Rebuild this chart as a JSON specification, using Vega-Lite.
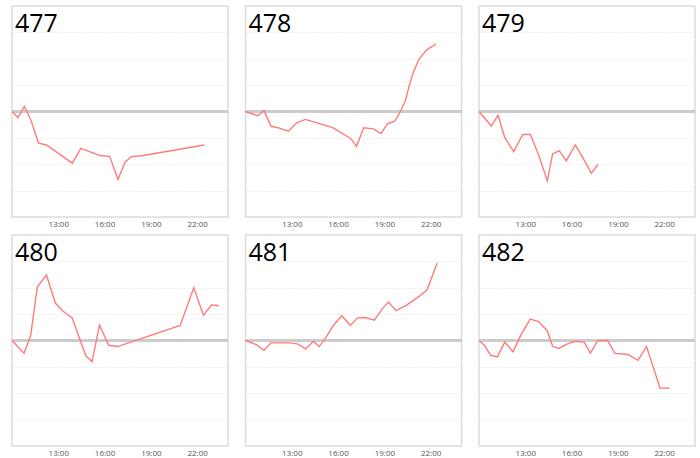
{
  "$schema": "https://vega.github.io/schema/vega-lite/v6.json",
  "padding": {"left": 8, "top": 5, "right": 5, "bottom": 5},
  "background": "white",
  "data": {"values": [
    {"id":"477","h":10.0,"v":0},{"id":"477","h":10.39,"v":-0.23},{"id":"477","h":10.8,"v":0.19},{"id":"477","h":11.24,"v":-0.35},{"id":"477","h":11.72,"v":-1.2},{"id":"477","h":12.24,"v":-1.27},{"id":"477","h":13.91,"v":-1.96},{"id":"477","h":14.46,"v":-1.4},{"id":"477","h":15.7,"v":-1.67},{"id":"477","h":16.33,"v":-1.7},{"id":"477","h":16.87,"v":-2.58},{"id":"477","h":17.33,"v":-1.91},{"id":"477","h":17.74,"v":-1.71},{"id":"477","h":18.41,"v":-1.68},{"id":"477","h":22.46,"v":-1.27},
    {"id":"478","h":10.0,"v":0},{"id":"478","h":10.8,"v":-0.16},{"id":"478","h":11.2,"v":0.03},{"id":"478","h":11.66,"v":-0.56},{"id":"478","h":12.14,"v":-0.62},{"id":"478","h":12.78,"v":-0.75},{"id":"478","h":13.32,"v":-0.43},{"id":"478","h":13.88,"v":-0.3},{"id":"478","h":15.65,"v":-0.61},{"id":"478","h":16.08,"v":-0.76},{"id":"478","h":16.5,"v":-0.91},{"id":"478","h":16.84,"v":-1.04},{"id":"478","h":17.2,"v":-1.32},{"id":"478","h":17.66,"v":-0.62},{"id":"478","h":18.3,"v":-0.66},{"id":"478","h":18.78,"v":-0.84},{"id":"478","h":19.2,"v":-0.47},{"id":"478","h":19.68,"v":-0.37},{"id":"478","h":20.07,"v":0.04},{"id":"478","h":20.35,"v":0.39},{"id":"478","h":20.6,"v":0.95},{"id":"478","h":20.9,"v":1.52},{"id":"478","h":21.25,"v":2.0},{"id":"478","h":21.75,"v":2.34},{"id":"478","h":22.35,"v":2.56},
    {"id":"479","h":10.0,"v":0},{"id":"479","h":10.8,"v":-0.55},{"id":"479","h":11.23,"v":-0.14},{"id":"479","h":11.68,"v":-1.0},{"id":"479","h":12.25,"v":-1.52},{"id":"479","h":12.83,"v":-0.87},{"id":"479","h":13.33,"v":-0.87},{"id":"479","h":13.87,"v":-1.66},{"id":"479","h":14.43,"v":-2.63},{"id":"479","h":14.77,"v":-1.61},{"id":"479","h":15.2,"v":-1.48},{"id":"479","h":15.66,"v":-1.87},{"id":"479","h":16.24,"v":-1.27},{"id":"479","h":16.74,"v":-1.76},{"id":"479","h":17.28,"v":-2.34},{"id":"479","h":17.71,"v":-2.01},
    {"id":"480","h":10.0,"v":0},{"id":"480","h":10.78,"v":-0.48},{"id":"480","h":11.21,"v":0.18},{"id":"480","h":11.64,"v":2.03},{"id":"480","h":12.23,"v":2.48},{"id":"480","h":12.81,"v":1.42},{"id":"480","h":13.31,"v":1.11},{"id":"480","h":13.9,"v":0.86},{"id":"480","h":14.78,"v":-0.58},{"id":"480","h":15.19,"v":-0.8},{"id":"480","h":15.67,"v":0.58},{"id":"480","h":16.27,"v":-0.18},{"id":"480","h":16.84,"v":-0.23},{"id":"480","h":20.9,"v":0.57},{"id":"480","h":21.78,"v":2.0},{"id":"480","h":22.41,"v":0.96},{"id":"480","h":22.93,"v":1.35},{"id":"480","h":23.4,"v":1.32},
    {"id":"481","h":10.0,"v":0},{"id":"481","h":10.7,"v":-0.16},{"id":"481","h":11.19,"v":-0.37},{"id":"481","h":11.65,"v":-0.09},{"id":"481","h":12.82,"v":-0.09},{"id":"481","h":13.36,"v":-0.13},{"id":"481","h":13.9,"v":-0.32},{"id":"481","h":14.4,"v":-0.03},{"id":"481","h":14.77,"v":-0.23},{"id":"481","h":15.16,"v":0.06},{"id":"481","h":15.68,"v":0.56},{"id":"481","h":16.24,"v":0.94},{"id":"481","h":16.8,"v":0.57},{"id":"481","h":17.26,"v":0.86},{"id":"481","h":17.76,"v":0.87},{"id":"481","h":18.35,"v":0.77},{"id":"481","h":18.85,"v":1.19},{"id":"481","h":19.26,"v":1.46},{"id":"481","h":19.76,"v":1.13},{"id":"481","h":20.45,"v":1.34},{"id":"481","h":21.27,"v":1.68},{"id":"481","h":21.77,"v":1.92},{"id":"481","h":22.42,"v":2.94},
    {"id":"482","h":10.0,"v":0},{"id":"482","h":10.35,"v":-0.18},{"id":"482","h":10.76,"v":-0.56},{"id":"482","h":11.19,"v":-0.62},{"id":"482","h":11.67,"v":-0.06},{"id":"482","h":12.21,"v":-0.43},{"id":"482","h":12.73,"v":0.23},{"id":"482","h":13.32,"v":0.81},{"id":"482","h":13.86,"v":0.72},{"id":"482","h":14.42,"v":0.37},{"id":"482","h":14.77,"v":-0.22},{"id":"482","h":15.18,"v":-0.3},{"id":"482","h":15.72,"v":-0.13},{"id":"482","h":16.26,"v":-0.03},{"id":"482","h":16.82,"v":-0.06},{"id":"482","h":17.22,"v":-0.48},{"id":"482","h":17.7,"v":-0.01},{"id":"482","h":18.32,"v":0.01},{"id":"482","h":18.81,"v":-0.49},{"id":"482","h":19.66,"v":-0.53},{"id":"482","h":20.3,"v":-0.75},{"id":"482","h":20.86,"v":-0.23},{"id":"482","h":21.73,"v":-1.8},{"id":"482","h":22.35,"v":-1.81}
  ]},
  "columns": 3,
  "bounds": "flush",
  "spacing": {"column": 17.5, "row": 18},
  "concat": [
    {"transform": [{"filter": "datum.id == '477'"}], "width": 216, "height": 211, "layer": [
      {"mark": "rule", "encoding": {"y": {"datum": 0, "type": "quantitative"}}},
      {"mark": "line", "encoding": {"x": {"field": "h", "type": "quantitative", "scale": {"domain": [10, 24], "nice": false, "zero": false}, "axis": {"values": [13, 16, 19, 22], "labelExpr": "datum.value + ':00'"}}, "y": {"field": "v", "type": "quantitative", "scale": {"domain": [-4, 4], "nice": false}, "axis": {"values": [-3, -2, -1, 1, 2, 3]}}}},
      {"transform": [{"filter": "datum.h == 10"}], "mark": "text", "encoding": {"x": {"field": "h", "type": "quantitative"}, "y": {"datum": 4, "type": "quantitative"}, "text": {"field": "id"}}}
    ]},
    {"transform": [{"filter": "datum.id == '478'"}], "width": 216, "height": 211, "layer": [
      {"mark": "rule", "encoding": {"y": {"datum": 0, "type": "quantitative"}}},
      {"mark": "line", "encoding": {"x": {"field": "h", "type": "quantitative", "scale": {"domain": [10, 24], "nice": false, "zero": false}, "axis": {"values": [13, 16, 19, 22], "labelExpr": "datum.value + ':00'"}}, "y": {"field": "v", "type": "quantitative", "scale": {"domain": [-4, 4], "nice": false}, "axis": {"values": [-3, -2, -1, 1, 2, 3]}}}},
      {"transform": [{"filter": "datum.h == 10"}], "mark": "text", "encoding": {"x": {"field": "h", "type": "quantitative"}, "y": {"datum": 4, "type": "quantitative"}, "text": {"field": "id"}}}
    ]},
    {"transform": [{"filter": "datum.id == '479'"}], "width": 216, "height": 211, "layer": [
      {"mark": "rule", "encoding": {"y": {"datum": 0, "type": "quantitative"}}},
      {"mark": "line", "encoding": {"x": {"field": "h", "type": "quantitative", "scale": {"domain": [10, 24], "nice": false, "zero": false}, "axis": {"values": [13, 16, 19, 22], "labelExpr": "datum.value + ':00'"}}, "y": {"field": "v", "type": "quantitative", "scale": {"domain": [-4, 4], "nice": false}, "axis": {"values": [-3, -2, -1, 1, 2, 3]}}}},
      {"transform": [{"filter": "datum.h == 10"}], "mark": "text", "encoding": {"x": {"field": "h", "type": "quantitative"}, "y": {"datum": 4, "type": "quantitative"}, "text": {"field": "id"}}}
    ]},
    {"transform": [{"filter": "datum.id == '480'"}], "width": 216, "height": 211, "layer": [
      {"mark": "rule", "encoding": {"y": {"datum": 0, "type": "quantitative"}}},
      {"mark": "line", "encoding": {"x": {"field": "h", "type": "quantitative", "scale": {"domain": [10, 24], "nice": false, "zero": false}, "axis": {"values": [13, 16, 19, 22], "labelExpr": "datum.value + ':00'"}}, "y": {"field": "v", "type": "quantitative", "scale": {"domain": [-4, 4], "nice": false}, "axis": {"values": [-3, -2, -1, 1, 2, 3]}}}},
      {"transform": [{"filter": "datum.h == 10"}], "mark": "text", "encoding": {"x": {"field": "h", "type": "quantitative"}, "y": {"datum": 4, "type": "quantitative"}, "text": {"field": "id"}}}
    ]},
    {"transform": [{"filter": "datum.id == '481'"}], "width": 216, "height": 211, "layer": [
      {"mark": "rule", "encoding": {"y": {"datum": 0, "type": "quantitative"}}},
      {"mark": "line", "encoding": {"x": {"field": "h", "type": "quantitative", "scale": {"domain": [10, 24], "nice": false, "zero": false}, "axis": {"values": [13, 16, 19, 22], "labelExpr": "datum.value + ':00'"}}, "y": {"field": "v", "type": "quantitative", "scale": {"domain": [-4, 4], "nice": false}, "axis": {"values": [-3, -2, -1, 1, 2, 3]}}}},
      {"transform": [{"filter": "datum.h == 10"}], "mark": "text", "encoding": {"x": {"field": "h", "type": "quantitative"}, "y": {"datum": 4, "type": "quantitative"}, "text": {"field": "id"}}}
    ]},
    {"transform": [{"filter": "datum.id == '482'"}], "width": 216, "height": 211, "layer": [
      {"mark": "rule", "encoding": {"y": {"datum": 0, "type": "quantitative"}}},
      {"mark": "line", "encoding": {"x": {"field": "h", "type": "quantitative", "scale": {"domain": [10, 24], "nice": false, "zero": false}, "axis": {"values": [13, 16, 19, 22], "labelExpr": "datum.value + ':00'"}}, "y": {"field": "v", "type": "quantitative", "scale": {"domain": [-4, 4], "nice": false}, "axis": {"values": [-3, -2, -1, 1, 2, 3]}}}},
      {"transform": [{"filter": "datum.h == 10"}], "mark": "text", "encoding": {"x": {"field": "h", "type": "quantitative"}, "y": {"datum": 4, "type": "quantitative"}, "text": {"field": "id"}}}
    ]}
  ],
  "config": {
    "view": {"stroke": "#dcdcdc", "strokeWidth": 1.5},
    "rule": {"color": "#cccccc", "strokeWidth": 1.6},
    "line": {"color": "#ff7b7b", "strokeWidth": 1.4},
    "text": {"align": "left", "baseline": "alphabetic", "dx": 3, "dy": 26, "fontSize": 25, "font": "Open Sans", "color": "black"},
    "axisX": {"title": null, "ticks": false, "domain": false, "grid": false, "labelFontSize": 8, "labelColor": "#555555", "labelPadding": 3, "labelFont": "Open Sans"},
    "axisY": {"title": null, "ticks": false, "domain": false, "labels": false, "grid": true, "gridColor": "#efefef", "gridDash": [2, 1]}
  }
}
